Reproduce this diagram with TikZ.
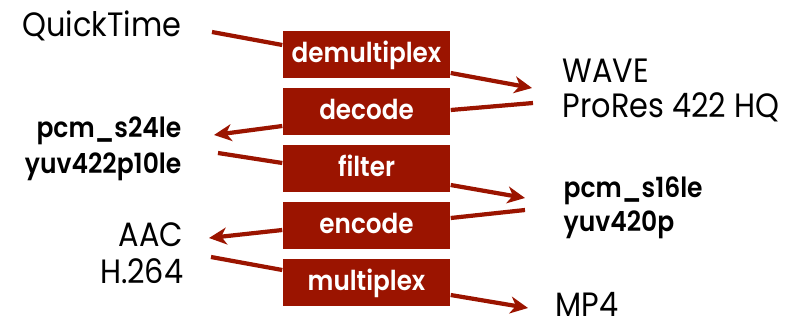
\documentclass[tikz,border=0pt]{standalone}
\usepackage{fontspec}
\setmainfont{Poppins}[FakeStretch=0.9, BoldFont={Poppins SemiBold}]
\usetikzlibrary{arrows.meta}
\definecolor{boxred}{HTML}{9B1400}

\tikzset{
  stage/.style={fill=boxred, text=white, minimum width=1.67cm, minimum height=0.47cm,
    inner sep=0pt, text height=0.2cm, text depth=0.05cm,
    font=\bfseries\fontsize{7.8}{9}\selectfont},
  fmt/.style={font=\fontsize{9.6}{11}\selectfont, inner sep=0pt},
  codec/.style={font=\bfseries\fontsize{7.9}{10}\selectfont, inner sep=0pt},
  flow/.style={boxred, line width=1.2pt},
  flowto/.style={flow, -{Stealth[length=5pt, width=4.8pt, inset=1.5pt]}},
}

\begin{document}
\begin{tikzpicture}
    \useasboundingbox (0cm,0cm) rectangle (7.89cm,3.23cm);

    % the five stages
    \node[stage] (demux)  at (3.665cm, 2.685cm) {demultiplex};
    \node[stage] (decode) at (3.665cm, 2.115cm) {decode};
    \node[stage] (filter) at (3.665cm, 1.545cm) {filter};
    \node[stage] (encode) at (3.665cm, 0.975cm) {encode};
    \node[stage] (mux)    at (3.665cm, 0.405cm) {multiplex};

    % left column
    \node[fmt, anchor=base east]   (quicktime) at (1.82cm, 2.86cm) {QuickTime};
    \node[codec, anchor=base east] (pcmin)     at (1.82cm, 1.86cm) {pcm\_s24le};
    \node[codec, anchor=base east] (yuvin)     at (1.82cm, 1.50cm) {yuv422p10le};
    \node[fmt, anchor=base east]   (aac)       at (1.84cm, 0.77cm) {AAC};
    \node[fmt, anchor=base east]   (h264)      at (1.84cm, 0.40cm) {H.264};

    % right column
    \node[fmt, anchor=base west]   (wave)   at (5.62cm, 2.41cm) {WAVE};
    \node[fmt, anchor=base west]   (prores) at (5.62cm, 2.06cm) {ProRes 422 HQ};
    \node[codec, anchor=base west] (pcmout) at (5.63cm, 1.26cm) {pcm\_s16le};
    \node[codec, anchor=base west] (yuvout) at (5.63cm, 0.92cm) {yuv420p};
    \node[fmt, anchor=base west]   (mp4)    at (5.55cm, 0.07cm) {MP4};

    % free ends of the flow lines
    \coordinate (qt-end)     at (2.12cm, 2.91cm);
    \coordinate (wave-tip)   at (5.32cm, 2.35cm);
    \coordinate (prores-end) at (5.33cm, 2.20cm);
    \coordinate (pcmin-tip)  at (2.14cm, 1.88cm);
    \coordinate (yuvin-end)  at (2.18cm, 1.70cm);
    \coordinate (pcmout-tip) at (5.25cm, 1.25cm);
    \coordinate (yuvout-end) at (5.25cm, 1.13cm);
    \coordinate (aac-tip)    at (2.09cm, 0.85cm);
    \coordinate (h264-end)   at (2.11cm, 0.66cm);
    \coordinate (mp4-tip)    at (5.28cm, 0.15cm);

    \draw[flow]   (qt-end) -- ([yshift=0.095cm]demux.west);
    \draw[flowto] ([yshift=-0.185cm]demux.east) -- (wave-tip);
    \draw[flow]   (prores-end) -- ([yshift=0.015cm]decode.east);
    \draw[flowto] ([yshift=-0.145cm]decode.west) -- (pcmin-tip);
    \draw[flow]   (yuvin-end) -- ([yshift=0.055cm]filter.west);
    \draw[flowto] ([yshift=-0.165cm]filter.east) -- (pcmout-tip);
    \draw[flow]   (yuvout-end) -- ([yshift=0.075cm]encode.east);
    \draw[flowto] ([yshift=-0.045cm]encode.west) -- (aac-tip);
    \draw[flow]   (h264-end) -- ([yshift=0.125cm]mux.west);
    \draw[flowto] ([yshift=-0.125cm]mux.east) -- (mp4-tip);
  \end{tikzpicture}
\end{document}
